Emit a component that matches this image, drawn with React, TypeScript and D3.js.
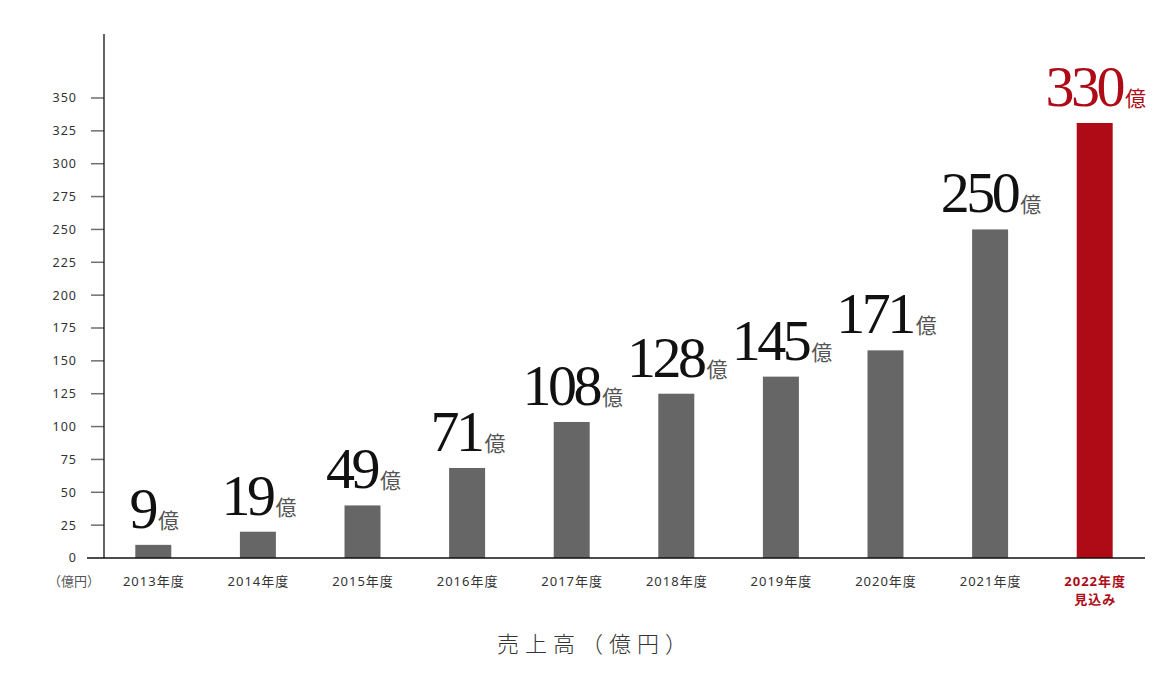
import React from "react";
import * as d3 from "d3";

const categories = ["2013年度", "2014年度", "2015年度", "2016年度", "2017年度", "2018年度", "2019年度", "2020年度", "2021年度", "2022年度"];
const barValues = [10, 20, 40, 68.5, 103.5, 125, 138, 158, 250, 331];
const labelValues = [9, 19, 49, 71, 108, 128, 145, 171, 250, 330];
const yTicks = [0, 25, 50, 75, 100, 125, 150, 175, 200, 225, 250, 275, 300, 325, 350];
const highlightIndex = 9;
const highlightSub = "見込み";
const unitLabel = "（億円）";
const title = "売上高（億円）";
const unitChar = "億";

const W = 1174;
const H = 691;
const GREY = "#666666";
const RED = "#ae0b17";

export default function App() {
  const x = d3.scaleBand<string>().domain(categories).range([101, 1147]).paddingInner(0.656).paddingOuter(0.328);
  const y = d3.scaleLinear().domain([0, 350]).range([558, 98]);
  const sans = "'Noto Sans', 'Noto Sans CJK JP', sans-serif";
  const cjk = "'Noto Sans CJK JP', 'Noto Sans', sans-serif";
  const serif = "'Liberation Serif', 'DejaVu Serif', serif";

  return (
    <svg width={W} height={H} style={{ position: "absolute", left: 0, top: 0, background: "#fff" }}>
      {/* y ticks */}
      {yTicks.map((t) => (
        <g key={t}>
          {t !== 0 && <line x1={91} x2={104} y1={y(t)} y2={y(t)} stroke="#6e6e6e" strokeWidth={1.5} />}
          <text x={77} y={y(t)} dy="0.35em" textAnchor="end" fontFamily={sans} fontSize={12.5} letterSpacing={1} fill="#333">
            {t}
          </text>
        </g>
      ))}
      {/* bars */}
      {barValues.map((v, i) => (
        <rect
          key={categories[i]}
          x={x(categories[i])}
          y={y(v)}
          width={x.bandwidth()}
          height={y(0) - y(v)}
          fill={i === highlightIndex ? RED : GREY}
        />
      ))}
      {/* axes */}
      <line x1={104} x2={104} y1={34} y2={558} stroke="#111" strokeWidth={1.3} />
      <line x1={87} x2={1145} y1={558} y2={558} stroke="#111" strokeWidth={1.3} />
      {/* value labels */}
      {labelValues.map((lv, i) => {
        const cx = (x(categories[i]) as number) + x.bandwidth() / 2;
        const red = i === highlightIndex;
        return (
          <text key={"l" + i} x={cx + 1} y={y(barValues[i]) - 17} textAnchor="middle">
            <tspan fontFamily={serif} fontSize={58} letterSpacing={-3.5} fill={red ? RED : "#111"}>
              {lv}
            </tspan>
            <tspan dx={3} fontFamily={cjk} fontSize={21} fill={red ? RED : "#555"}>
              {unitChar}
            </tspan>
          </text>
        );
      })}
      {/* x labels */}
      {categories.map((c, i) => {
        const cx = (x(c) as number) + x.bandwidth() / 2;
        const red = i === highlightIndex;
        return (
          <g key={"x" + c}>
            <text x={cx + 0.5} y={586} textAnchor="middle" fontFamily={sans} fontSize={13} letterSpacing={1} fill={red ? RED : "#333"} fontWeight={red ? 700 : 400}>
              {c}
            </text>
            {red && (
              <text x={cx + 0.5} y={604} textAnchor="middle" fontFamily={sans} fontSize={13} letterSpacing={1} fill={RED} fontWeight={700}>
                {highlightSub}
              </text>
            )}
          </g>
        );
      })}
      <text x={74} y={586} textAnchor="middle" fontFamily={cjk} fontSize={13} fill="#555">
        {unitLabel}
      </text>
      {/* title */}
      <text x={595} y={652} textAnchor="middle" fontFamily={cjk} fontSize={22} fontWeight={300} letterSpacing={6} fill="#333">
        {title}
      </text>
    </svg>
  );
}
